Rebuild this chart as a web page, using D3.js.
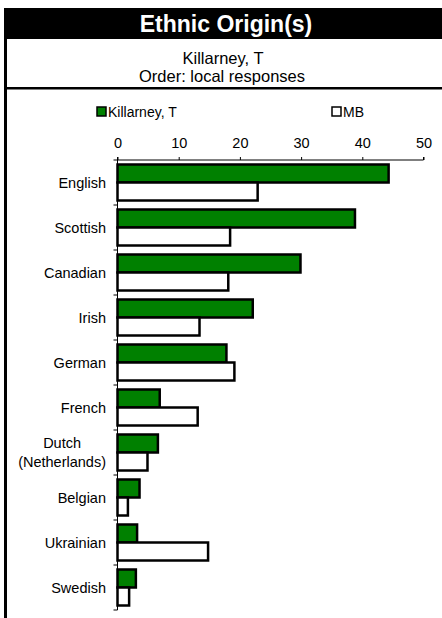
<!DOCTYPE html>
<html>
<head>
<meta charset="utf-8">
<script src="https://cdn.jsdelivr.net/npm/d3@7"></script>
<style>
body { margin: 0; background: #fff; }
text { font-family: "Liberation Sans", Arial, sans-serif; }
</style>
</head>
<body>
<svg width="442" height="618"></svg>
<script>
var categories = ["English", "Scottish", "Canadian", "Irish", "German", "French", "Dutch\n(Netherlands)", "Belgian", "Ukrainian", "Swedish"]
var localValues = [44.3, 38.8, 29.9, 22.1, 17.8, 6.9, 6.6, 3.6, 3.2, 3.0]
var mbValues = [22.9, 18.4, 18.1, 13.4, 19.1, 13.1, 4.9, 1.7, 14.8, 1.9]
var seriesNames = ["Killarney, T", "MB"]
var tickValues = [0, 10, 20, 30, 40, 50]

var svg = d3.select("svg"),
width = +svg.attr("width"),
height = +svg.attr("height")

// frame + title block
svg.append("rect").attr("x", 4).attr("y", 8).attr("width", width - 4).attr("height", 31).style("fill", "#000")
svg.append("rect").attr("x", 4).attr("y", 8).attr("width", 3).attr("height", height - 8).style("fill", "#000")
svg.append("rect").attr("x", 4).attr("y", 87).attr("width", width - 4).attr("height", 2.5).style("fill", "#000")

svg.append("text").attr("x", 226).attr("y", 32)
  .attr("text-anchor", "middle").style("font-size", "23px").style("font-weight", "bold").style("fill", "#fff")
  .text("Ethnic Origin(s)")
svg.append("text").attr("x", 223).attr("y", 63.5)
  .attr("text-anchor", "middle").style("font-size", "16.5px")
  .text("Killarney, T")
svg.append("text").attr("x", 222).attr("y", 82)
  .attr("text-anchor", "middle").style("font-size", "16.5px")
  .text("Order: local responses")

var x = d3.scaleLinear().domain([0, 50]).range([117.5, 423.5])
var y = d3.scaleBand().domain(categories).range([160, 610]).paddingInner(0.2).paddingOuter(0.1)
var inner = d3.scaleBand().domain([0, 1]).range([0, y.bandwidth()])

// legend
var legend = svg.append("g")
var legX = [97, 332]
seriesNames.forEach(function(name, i) {
  legend.append("rect").attr("x", legX[i]).attr("y", 107).attr("width", 9).attr("height", 9)
    .style("fill", i == 0 ? "#008000" : "#fff").style("stroke", "#000").style("stroke-width", 1.5)
  legend.append("text").attr("x", legX[i] + 11).attr("y", 117).style("font-size", "14px").text(name)
})

// top axis
var xAxis = svg.append("g").attr("transform", "translate(0,160)")
  .call(d3.axisTop(x).tickValues(tickValues).tickSize(3).tickPadding(9))
xAxis.select(".domain").attr("d", "M" + x(0) + ",-3V0H" + x(50) + "V-3")
xAxis.selectAll("text").style("font-size", "14.5px").style("font-family", "Liberation Sans, Arial, sans-serif")

// left axis with ticks between categories
var left = svg.append("g")
left.append("line").attr("x1", x(0)).attr("x2", x(0)).attr("y1", 160).attr("y2", 610).style("stroke", "#000")
d3.range(categories.length + 1).forEach(function(i) {
  var yy = 160 + i * y.step()
  left.append("line").attr("x1", x(0) - 4).attr("x2", x(0)).attr("y1", yy).attr("y2", yy).style("stroke", "#000")
})

// category labels
var labels = svg.append("g")
categories.forEach(function(c) {
  var lines = c.split("\n")
  var cy = y(c) + y.bandwidth() / 2
  if (lines.length == 1) {
    labels.append("text").attr("x", 106).attr("y", cy + 5).attr("text-anchor", "end")
      .style("font-size", "14.5px").text(c)
  } else {
    var t = labels.append("text").attr("text-anchor", "middle").style("font-size", "14.5px")
    lines.forEach(function(l, k) {
      t.append("tspan").attr("x", 0).attr("y", cy - 4.5 + k * 19).text(l)
    })
    var w = t.node().getBBox().width
    t.selectAll("tspan").attr("x", 106 - w / 2)
  }
})

// bars
var bars = svg.append("g")
bars.selectAll("rect.local").data(categories).enter().append("rect")
  .attr("x", x(0))
  .attr("y", function(d) { return y(d) + inner(0) })
  .attr("width", function(d, i) { return x(localValues[i]) - x(0) })
  .attr("height", inner.bandwidth())
  .style("fill", "#008000").style("stroke", "#000").style("stroke-width", 2.5)
bars.selectAll("rect.mb").data(categories).enter().append("rect")
  .attr("x", x(0))
  .attr("y", function(d) { return y(d) + inner(1) })
  .attr("width", function(d, i) { return x(mbValues[i]) - x(0) })
  .attr("height", inner.bandwidth())
  .style("fill", "#fff").style("stroke", "#000").style("stroke-width", 2.5)
</script>
</body>
</html>
